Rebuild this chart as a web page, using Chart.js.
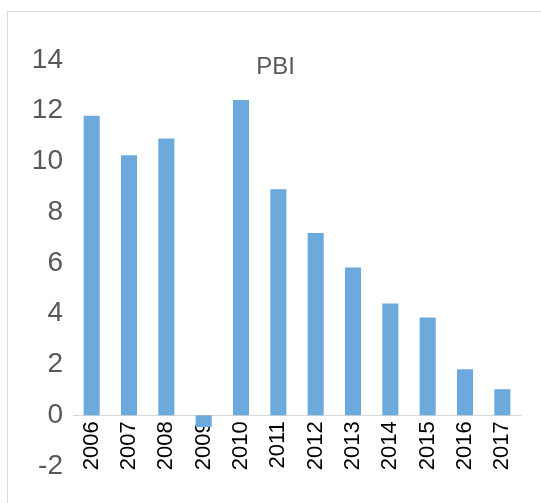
<!DOCTYPE html>
<html>
<head>
<meta charset="utf-8">
<script src="https://cdn.jsdelivr.net/npm/chart.js@4"></script>
<style>
  html, body { margin: 0; padding: 0; background: #fff; overflow: hidden; }
  #marco { position: absolute; left: 7px; top: 11px; width: 600px; height: 600px;
           border-left: 1px solid #d9d9d9; border-top: 1px solid #d9d9d9; }
  #wrap { position: absolute; left: 0; top: 0; width: 541px; height: 503px; }
</style>
</head>
<body>
<div id="marco"></div>
<div id="wrap"><canvas id="chart"></canvas></div>
<script>
const anios = ["2006", "2007", "2008", "2009", "2010", "2011", "2012", "2013", "2014", "2015", "2016", "2017"];
const pbi = [11.8, 10.24, 10.9, -0.46, 12.42, 8.9, 7.18, 5.82, 4.4, 3.85, 1.81, 1.02];
const ejeY = [-2, 0, 2, 4, 6, 8, 10, 12, 14];
const titulo = "PBI";

const myChart = document.getElementById("chart");

// ---------------------------------------------- grafico
const config = {
    type: "bar",
    data: {
        labels: anios,
        datasets: [{
            label: titulo,
            data: pbi,
            backgroundColor: "#6ca9dc",
            borderWidth: 0,
            barPercentage: 1,
            categoryPercentage: 0.43
        }]
    },
    options: {
        responsive: true,
        maintainAspectRatio: false,
        animation: false,
        layout: {
            padding: { left: 30, right: 20, top: 0, bottom: 37 }
        },
        plugins: {
            legend: { display: false },
            tooltip: { enabled: false },
            title: {
                display: true,
                text: titulo,
                color: "#595959",
                font: { family: "Liberation Sans", size: 24, weight: "normal" },
                padding: { top: 53, bottom: -22 }
            }
        },
        scales: {
            x: {
                position: { y: 0 },
                grid: { display: false, drawTicks: false },
                border: { display: true, color: "#d9d9d9", width: 1 },
                ticks: {
                    color: "#000",
                    font: { family: "Liberation Sans", size: 22 },
                    minRotation: 90,
                    maxRotation: 90,
                    padding: 6
                },
                afterFit: (scale) => { scale.height = 0; }
            },
            y: {
                min: -2,
                max: 14,
                grid: { display: false, drawTicks: false },
                border: { display: false },
                afterBuildTicks: (scale) => {
                    scale.ticks = ejeY.map((v) => ({ value: v }));
                },
                ticks: {
                    color: "#595959",
                    font: { family: "Liberation Sans", size: 28 },
                    padding: 10
                },
                afterFit: (scale) => { scale.width = 43; }
            }
        }
    }
};

new Chart(myChart, config);
</script>
</body>
</html>
